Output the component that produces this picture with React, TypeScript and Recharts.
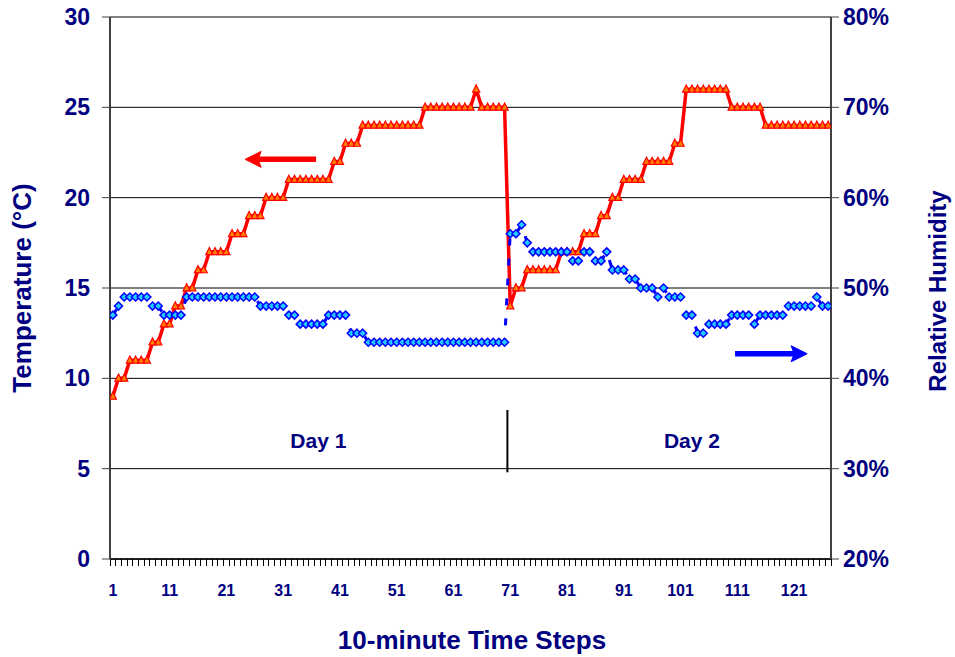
import React from 'react';
import { LineChart, Line, XAxis, YAxis, CartesianGrid, ReferenceLine, ReferenceDot, Label } from 'recharts';

const timeSteps = [
  1, 2, 3, 4, 5, 6, 7, 8, 9, 10, 11, 12, 13, 14, 15, 16, 17, 18, 19, 20,
  21, 22, 23, 24, 25, 26, 27, 28, 29, 30, 31, 32, 33, 34, 35, 36, 37, 38, 39, 40,
  41, 42, 43, 44, 45, 46, 47, 48, 49, 50, 51, 52, 53, 54, 55, 56, 57, 58, 59, 60,
  61, 62, 63, 64, 65, 66, 67, 68, 69, 70, 71, 72, 73, 74, 75, 76, 77, 78, 79, 80,
  81, 82, 83, 84, 85, 86, 87, 88, 89, 90, 91, 92, 93, 94, 95, 96, 97, 98, 99, 100,
  101, 102, 103, 104, 105, 106, 107, 108, 109, 110, 111, 112, 113, 114, 115, 116, 117, 118, 119, 120,
  121, 122, 123, 124, 125, 126, 127,
];

const temperature = [
  9, 10, 10, 11, 11, 11, 11, 12, 12, 13,
  13, 14, 14, 15, 15, 16, 16, 17, 17, 17,
  17, 18, 18, 18, 19, 19, 19, 20, 20, 20,
  20, 21, 21, 21, 21, 21, 21, 21, 21, 22,
  22, 23, 23, 23, 24, 24, 24, 24, 24, 24,
  24, 24, 24, 24, 24, 25, 25, 25, 25, 25,
  25, 25, 25, 25, 26, 25, 25, 25, 25, 25,
  14, 15, 15, 16, 16, 16, 16, 16, 16, 17,
  17, 17, 17, 18, 18, 18, 19, 19, 20, 20,
  21, 21, 21, 21, 22, 22, 22, 22, 22, 23,
  23, 26, 26, 26, 26, 26, 26, 26, 26, 25,
  25, 25, 25, 25, 25, 24, 24, 24, 24, 24,
  24, 24, 24, 24, 24, 24, 24,
];

const humidity = [
  47, 48, 49, 49, 49, 49, 49, 48, 48, 47,
  47, 47, 47, 49, 49, 49, 49, 49, 49, 49,
  49, 49, 49, 49, 49, 49, 48, 48, 48, 48,
  48, 47, 47, 46, 46, 46, 46, 46, 47, 47,
  47, 47, 45, 45, 45, 44, 44, 44, 44, 44,
  44, 44, 44, 44, 44, 44, 44, 44, 44, 44,
  44, 44, 44, 44, 44, 44, 44, 44, 44, 44,
  56, 56, 57, 55, 54, 54, 54, 54, 54, 54,
  54, 53, 53, 54, 54, 53, 53, 54, 52, 52,
  52, 51, 51, 50, 50, 50, 49, 50, 49, 49,
  49, 47, 47, 45, 45, 46, 46, 46, 46, 47,
  47, 47, 47, 46, 47, 47, 47, 47, 47, 48,
  48, 48, 48, 48, 49, 48, 48,
];

const xTickLabels = [1, 11, 21, 31, 41, 51, 61, 71, 81, 91, 101, 111, 121];
const tempTicks = [0, 5, 10, 15, 20, 25, 30];
const humidityTicks = [20, 30, 40, 50, 60, 70, 80];

const data = timeSteps.map((s, i) => ({ step: s, temp: temperature[i], rh: humidity[i] }));
const xMin = timeSteps[0] - 0.5;
const xMax = timeSteps[timeSteps.length - 1] + 0.5;
const boundaryTicks = [xMin, ...timeSteps.map((s) => s + 0.5)];

const NAVY = '#000080';
const FONT = '"Liberation Sans", Arial, Helvetica, sans-serif';

// Ticks sit on category boundaries; the label of category L is drawn half a category right of boundary L-0.5.
const XTick = (props: any) => {
  const { x, y, payload, width } = props;
  const b = payload.value;
  const label = b + 0.5;
  const mark = <line x1={x} y1={y - 7} x2={x} y2={y} stroke="#000" strokeWidth={1} shapeRendering="crispEdges" />;
  if (!xTickLabels.includes(label)) return mark;
  const axisW = typeof width === 'number' && width > 0 ? width : 721;
  const half = axisW / ((xMax - xMin) * 2);
  return (
    <g>
      {mark}
      <text x={x + half} y={y + 30} textAnchor="middle" fill={NAVY} fontSize={16} fontWeight="bold" fontFamily={FONT}>
        {label}
      </text>
    </g>
  );
};

const TriangleDot = (props: any) => {
  const { cx, cy, index } = props;
  if (cx == null || cy == null) return <g key={`t${index}`} />;
  return (
    <path
      key={`t${index}`}
      d={`M${cx},${cy - 4.3} L${cx + 3.6},${cy + 2.8} L${cx - 3.6},${cy + 2.8} Z`}
      fill="#ff8000"
      stroke="#ff0000"
      strokeWidth={1.2}
      strokeDasharray="none"
    />
  );
};

const DiamondDot = (props: any) => {
  const { cx, cy, index } = props;
  if (cx == null || cy == null) return <g key={`d${index}`} />;
  return (
    <path
      key={`d${index}`}
      d={`M${cx},${cy - 4} L${cx + 4},${cy} L${cx},${cy + 4} L${cx - 4},${cy} Z`}
      fill="#22ccff"
      stroke="#0000ff"
      strokeWidth={1.5}
      strokeDasharray="none"
    />
  );
};

const makeArrow = (color: string) => (props: any) => {
  const { x1, y1, x2, y2 } = props;
  const dir = Math.sign(x2 - x1) || 1;
  const headLen = 16;
  const headHalf = 8;
  const bx = x2 - dir * headLen;
  const notch = x2 - dir * (headLen - 3);
  return (
    <g>
      <line x1={x1} y1={y1} x2={notch} y2={y2} stroke={color} strokeWidth={5.5} />
      <path
        d={`M${x2},${y2} L${bx},${y2 - headHalf} L${notch},${y2} L${bx},${y2 + headHalf} Z`}
        fill={color}
        stroke={color}
        strokeWidth={1}
      />
    </g>
  );
};

const titleStyle = { fill: NAVY, fontWeight: 'bold' as const, fontFamily: FONT };

const LeftTitle = () => (
  <text x={0} y={0} transform="translate(22,288) rotate(-90)" textAnchor="middle" dominantBaseline="central" fontSize={26} {...titleStyle}>
    Temperature (°C)
  </text>
);
const RightTitle = () => (
  <text x={0} y={0} transform="translate(937,291) rotate(-90)" textAnchor="middle" dominantBaseline="central" fontSize={24} {...titleStyle}>
    Relative Humidity
  </text>
);
const BottomTitle = () => (
  <text x={472} y={640} textAnchor="middle" dominantBaseline="central" fontSize={26} {...titleStyle}>
    10-minute Time Steps
  </text>
);

export default function App() {
  return (
    <div style={{ position: 'absolute', left: 0, top: 0, width: 955, height: 657, background: '#fff', fontFamily: FONT }}>
      <LineChart width={955} height={657} data={data} margin={{ top: 17, right: 64, bottom: 38, left: 50 }}>
        <CartesianGrid yAxisId="t" vertical={false} stroke="#000" strokeWidth={1} />
        <XAxis
          dataKey="step"
          type="number"
          domain={[xMin, xMax]}
          ticks={boundaryTicks}
          interval={0}
          minTickGap={0}
          tick={<XTick />}
          tickLine={{ stroke: '#000', strokeWidth: 1, shapeRendering: 'crispEdges' }}
          tickSize={7}
          tickMargin={0}
          height={60}
          axisLine={{ stroke: '#000', strokeWidth: 1.5 }}
          allowDataOverflow
          label={<Label content={<BottomTitle />} />}
        />
        <YAxis
          yAxisId="t"
          orientation="left"
          domain={[0, 30]}
          ticks={tempTicks}
          interval={0}
          width={60}
          tickSize={8}
          tickMargin={12}
          tick={{ fill: NAVY, fontSize: 23, fontWeight: 'bold', fontFamily: FONT }}
          tickLine={{ stroke: '#404040' }}
          axisLine={{ stroke: '#404040', strokeWidth: 2 }}
          label={<Label content={<LeftTitle />} />}
        />
        <YAxis
          yAxisId="h"
          orientation="right"
          domain={[20, 80]}
          ticks={humidityTicks}
          interval={0}
          width={60}
          tickSize={8}
          tickMargin={4}
          tickFormatter={(v: number) => `${v}%`}
          tick={{ fill: NAVY, fontSize: 23, fontWeight: 'bold', fontFamily: FONT }}
          tickLine={{ stroke: '#404040' }}
          axisLine={{ stroke: '#404040', strokeWidth: 2 }}
          label={<Label content={<RightTitle />} />}
        />
        <ReferenceLine
          yAxisId="t"
          segment={[{ x: 70.5, y: 8.25 }, { x: 70.5, y: 4.8 }]}
          stroke="#000"
          strokeWidth={2}
        />
        <ReferenceDot
          yAxisId="t"
          x={37.2}
          y={6.53}
          r={0}
          fill="none"
          stroke="none"
          label={{ value: 'Day 1', position: 'center', fill: NAVY, fontSize: 21, fontWeight: 'bold', fontFamily: FONT }}
        />
        <ReferenceDot
          yAxisId="t"
          x={103}
          y={6.53}
          r={0}
          fill="none"
          stroke="none"
          label={{ value: 'Day 2', position: 'center', fill: NAVY, fontSize: 21, fontWeight: 'bold', fontFamily: FONT }}
        />
        <Line
          yAxisId="t"
          dataKey="temp"
          type="linear"
          stroke="#ff0000"
          strokeWidth={3.5}
          dot={<TriangleDot />}
          activeDot={false}
          isAnimationActive={false}
        />
        <Line
          yAxisId="h"
          dataKey="rh"
          type="linear"
          stroke="#0000ff"
          strokeWidth={3}
          strokeDasharray="7 13"
          dot={<DiamondDot />}
          activeDot={false}
          isAnimationActive={false}
        />
        <ReferenceLine
          yAxisId="t"
          segment={[{ x: 36.8, y: 22.12 }, { x: 24.3, y: 22.12 }]}
          stroke="#ff0000"
          shape={makeArrow('#ff0000')}
        />
        <ReferenceLine
          yAxisId="h"
          segment={[{ x: 110.6, y: 42.72 }, { x: 123.3, y: 42.72 }]}
          stroke="#0000ff"
          shape={makeArrow('#0000ff')}
        />
      </LineChart>
    </div>
  );
}
